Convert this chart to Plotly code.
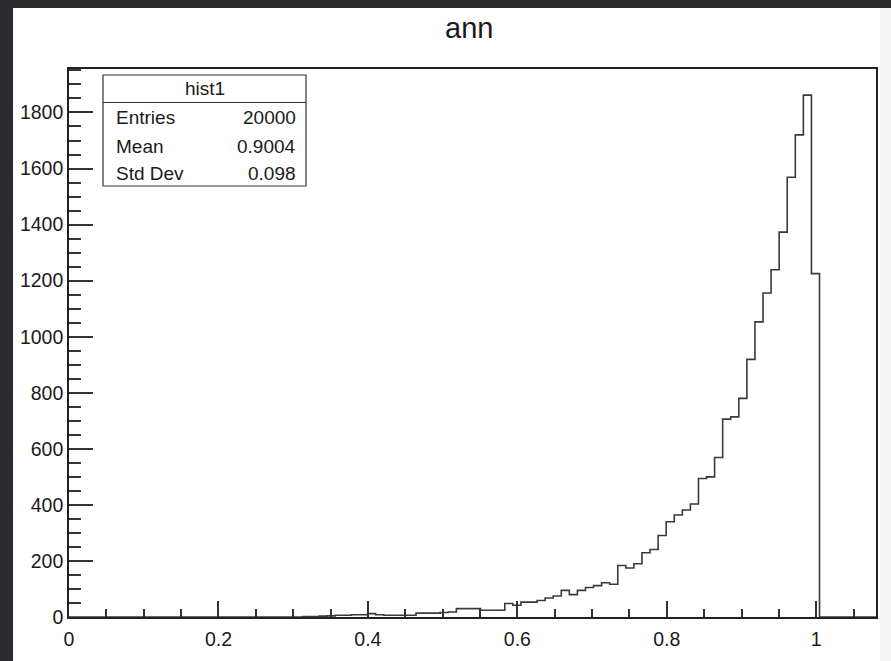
import plotly.graph_objects as go

# Histogram "hist1": 100 bins on [0, 1.08]
n_bins = 100
x_min, x_max = 0.0, 1.08

# bin contents, bin index -> count (all other bins are empty)
nonzero_bins = list(range(29, 93))
nonzero_counts = [
    2, 2, 3, 4, 6, 6, 8, 8, 12, 8,            # 29-38
    6, 6, 6, 6, 14, 14, 14, 16, 18, 30,       # 39-48
    30, 30, 24, 24, 24, 48, 42, 53, 53, 59,   # 49-58
    68, 75, 95, 80, 95, 105, 112, 122, 117, 184,   # 59-68
    175, 190, 229, 241, 291, 340, 364, 382, 403, 494,  # 69-78
    500, 569, 706, 714, 780, 919, 1053, 1156, 1239, 1373,  # 79-88
    1569, 1720, 1862, 1225,                   # 89-92
]

title_text = "ann"
stats_title = "hist1"
stats_labels = ["Entries", "Mean", "Std Dev"]
stats_values = ["20000", "0.9004", "0.098"]

x_tickvals = [0, 0.2, 0.4, 0.6, 0.8, 1.0]
x_ticktext = ["0", "0.2", "0.4", "0.6", "0.8", "1"]
y_tickvals = [0, 200, 400, 600, 800, 1000, 1200, 1400, 1600, 1800]

# full bin array
counts = [0] * n_bins
for b, c in zip(nonzero_bins, nonzero_counts):
    counts[b] = c
width = (x_max - x_min) / n_bins
edges = [x_min + i * width for i in range(n_bins + 1)]

# step outline: each point holds its bin content until the next edge
step_x = edges
step_y = counts + [counts[-1]]

W, H = 891, 661
L, R, T, B = 69, 15, 69, 44
PW, PH = W - L - R, H - T - B


def px(xp):
    return (xp - L) / PW


def py(yp):
    return (H - B - yp) / PH


FONT = "Liberation Sans, Arial, Helvetica, sans-serif"
INK = "#1a1a1a"
TICK_SIZE = 19.5
STAT_SIZE = 19

fig = go.Figure()
fig.add_trace(go.Scatter(
    x=step_x, y=step_y, mode="lines",
    line=dict(shape="hv", color="#3a3a3a", width=1.6),
    hoverinfo="skip", showlegend=False,
))

shapes = [
    # canvas and window border
    dict(type="rect", xref="paper", yref="paper", layer="below",
         x0=px(13), x1=px(W + 5), y0=py(8), y1=py(H + 5),
         fillcolor="white", line=dict(width=0)),
    dict(type="rect", xref="paper", yref="paper", layer="below",
         x0=px(880), x1=px(W + 5), y0=py(8), y1=py(H + 5),
         fillcolor="#f4f4f4", line=dict(width=0)),
    # statistics box
    dict(type="rect", xref="paper", yref="paper", layer="above",
         x0=px(103), x1=px(306), y0=py(186), y1=py(75),
         fillcolor="white", line=dict(color="#333333", width=1.2)),
    dict(type="line", xref="paper", yref="paper", layer="above",
         x0=px(103), x1=px(306), y0=py(102.5), y1=py(102.5),
         line=dict(color="#333333", width=1.2)),
]

annotations = [
    dict(text=title_text, xref="paper", yref="paper", x=px(469), y=py(28),
         xanchor="center", yanchor="middle", showarrow=False,
         font=dict(family=FONT, size=29, color=INK)),
    dict(text=stats_title, xref="paper", yref="paper", x=px(205), y=py(89),
         xanchor="center", yanchor="middle", showarrow=False,
         font=dict(family=FONT, size=STAT_SIZE, color=INK)),
]
row_y = [118, 146, 174]
for lab, val, yy in zip(stats_labels, stats_values, row_y):
    annotations.append(dict(text=lab, xref="paper", yref="paper", x=px(114), y=py(yy),
                            xanchor="left", yanchor="middle", showarrow=False,
                            font=dict(family=FONT, size=STAT_SIZE, color=INK)))
    annotations.append(dict(text=val, xref="paper", yref="paper", x=px(298), y=py(yy),
                            xanchor="right", yanchor="middle", showarrow=False,
                            font=dict(family=FONT, size=STAT_SIZE, color=INK)))

fig.update_layout(
    width=W, height=H,
    margin=dict(l=L, r=R, t=T, b=B, pad=0),
    paper_bgcolor="#2a2c30",
    plot_bgcolor="white",
    shapes=shapes,
    annotations=annotations,
    showlegend=False,
    xaxis=dict(
        range=[x_min, x_max], tickvals=x_tickvals, ticktext=x_ticktext,
        ticks="inside", ticklen=16, tickwidth=1.5, tickcolor="#333",
        minor=dict(dtick=0.05, tick0=0, ticks="inside", ticklen=8,
                   tickwidth=1.5, tickcolor="#333", showgrid=False),
        showline=True, linecolor="#222", linewidth=1.6, mirror=True,
        showgrid=False, zeroline=False, ticklabelstandoff=4,
        tickfont=dict(family=FONT, size=TICK_SIZE, color=INK),
    ),
    yaxis=dict(
        range=[0, 1.05 * max(counts)], tickvals=y_tickvals,
        ticks="inside", ticklen=24, tickwidth=1.5, tickcolor="#333",
        minor=dict(dtick=50, tick0=0, ticks="inside", ticklen=12,
                   tickwidth=1.5, tickcolor="#333", showgrid=False),
        showline=True, linecolor="#222", linewidth=1.6, mirror=True,
        showgrid=False, zeroline=False,
        tickfont=dict(family=FONT, size=TICK_SIZE, color=INK),
    ),
)

fig.write_html("out.html")
